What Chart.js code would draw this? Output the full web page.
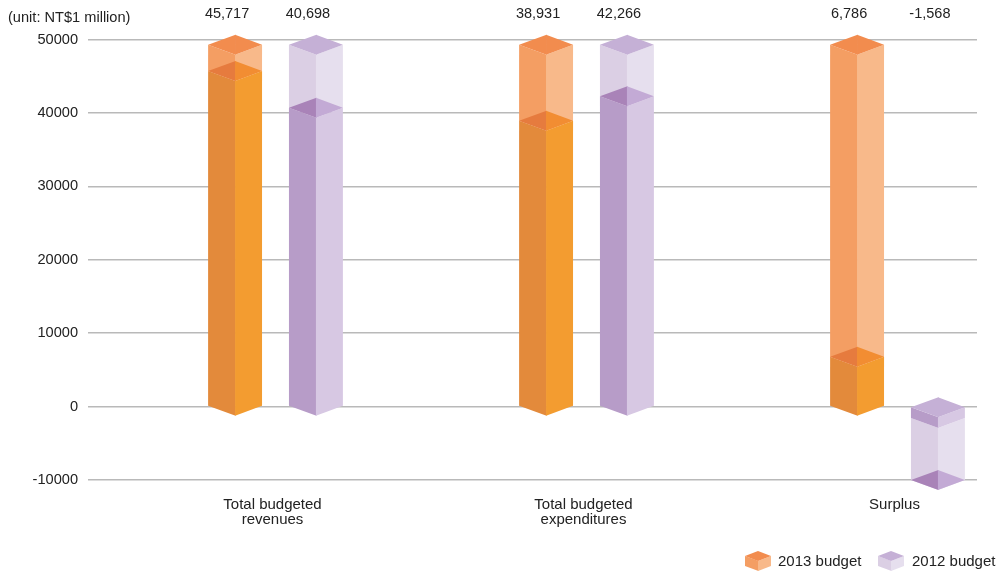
<!DOCTYPE html>
<html>
<head>
<meta charset="utf-8">
<title>Budget</title>
<script src="https://cdn.jsdelivr.net/npm/chart.js@4"></script>
<style>
  html, body { margin: 0; padding: 0; background: #fff; overflow: hidden; }
  #wrap { position: relative; width: 997px; height: 571px; font-family: "Liberation Sans", Arial, sans-serif; color: #222; }
  /* plot runs past the right end of the gridlines, the frame cuts it at 977 */
  #frame { position: absolute; left: 0; top: 0; width: 977px; height: 571px; overflow: hidden; }
  .key { position: absolute; top: 551px; height: 20px; }
  .keyText { position: absolute; top: 553px; font-size: 15px; line-height: 16px; white-space: nowrap; }
</style>
</head>
<body>
<div id="wrap">
  <div id="frame"><canvas id="chart" width="1053" height="571"></canvas></div>
  <canvas class="key" id="key2013" width="26" height="20" style="left:745px"></canvas>
  <div class="keyText" style="left:778px">2013 budget</div>
  <canvas class="key" id="key2012" width="26" height="20" style="left:878px"></canvas>
  <div class="keyText" style="left:912px">2012 budget</div>
</div>
<script>
const categories = [['Total budgeted', 'revenues'], ['Total budgeted', 'expenditures'], 'Surplus'];
const budget2013 = [45717, 38931, 6786];
const budget2012 = [40698, 42266, -1568];
const yMin = -10000;
const yMax = 50000;
const yStep = 10000;
const tubeTop = 49300; // the tubes stop just under the top gridline

const orange = {
  left: '#e38a3b', right: '#f39c30', capLeft: '#e67b3e', capRight: '#f28d32',
  paleLeft: '#f49e63', paleRight: '#f8b98a', paleCap: '#f28c4e'
};
const purple = {
  left: '#b79cc8', right: '#d7c8e3', capLeft: '#a983b8', capRight: '#c3aad5',
  paleLeft: '#dbcfe4', paleRight: '#e6dfee', paleCap: '#c5b0d6'
};

const FONT = '"Liberation Sans", Arial, sans-serif';
const DEPTH = 10; // half height of the diamond caps

function poly(ctx, color, pts) {
  ctx.fillStyle = color;
  ctx.beginPath();
  pts.forEach((p, i) => i ? ctx.lineTo(p[0], p[1]) : ctx.moveTo(p[0], p[1]));
  ctx.closePath();
  ctx.fill();
}

// the two visible faces between y1 (upper) and y2 (lower)
function faces(ctx, x, hw, y1, y2, left, right) {
  poly(ctx, left, [[x - hw, y1], [x + 0.5, y1 + DEPTH], [x + 0.5, y2 + DEPTH], [x - hw, y2]]);
  poly(ctx, right, [[x, y1 + DEPTH], [x + hw, y1], [x + hw, y2], [x, y2 + DEPTH]]);
}

function cap(ctx, x, hw, y, left, right) {
  poly(ctx, left, [[x - hw, y], [x + 0.5, y - DEPTH], [x + 0.5, y + DEPTH]]);
  poly(ctx, right, [[x, y - DEPTH], [x + hw, y], [x, y + DEPTH]]);
}

const prisms = {
  id: 'prisms',
  afterDatasetsDraw(chart) {
    const ctx = chart.ctx;
    const y = chart.scales.y;
    ctx.save();
    chart.data.datasets.forEach((ds, di) => {
      const c = ds.palette;
      chart.getDatasetMeta(di).data.forEach((bar, i) => {
        const hw = bar.width / 2;
        const x = bar.x;
        if (ds.data[i] >= 0) {
          const t = y.getPixelForValue(tubeTop);
          faces(ctx, x, hw, t, bar.y, c.paleLeft, c.paleRight);
          faces(ctx, x, hw, bar.y, bar.base, c.left, c.right);
          cap(ctx, x, hw, bar.y, c.capLeft, c.capRight);
          cap(ctx, x, hw, t, c.paleCap, c.paleCap);
        } else {
          const b = y.getPixelForValue(yMin);
          faces(ctx, x, hw, bar.y, b, c.paleLeft, c.paleRight);
          cap(ctx, x, hw, b, c.capLeft, c.capRight);
          faces(ctx, x, hw, bar.base, bar.y, c.left, c.right);
          cap(ctx, x, hw, bar.base, c.paleCap, c.paleCap);
        }
        // printed value above the column
        ctx.fillStyle = '#222';
        ctx.font = '14.5px ' + FONT;
        ctx.textAlign = 'center';
        ctx.textBaseline = 'middle';
        ctx.fillText(ds.data[i].toLocaleString('en-US'), x - 8, 14);
      });
    });
    ctx.fillStyle = '#222';
    ctx.font = '14.6px ' + FONT;
    ctx.textAlign = 'left';
    ctx.textBaseline = 'middle';
    ctx.fillText('(unit: NT$1 million)', 8, 18);
    ctx.restore();
  }
};

new Chart(document.getElementById('chart'), {
  type: 'bar',
  data: {
    labels: categories,
    datasets: [
      { label: '2013 budget', data: budget2013, palette: orange, backgroundColor: 'transparent' },
      { label: '2012 budget', data: budget2012, palette: purple, backgroundColor: 'transparent' }
    ]
  },
  options: {
    responsive: false,
    animation: false,
    categoryPercentage: 0.52,
    barPercentage: 0.667,
    layout: { padding: { top: 39.5, right: 0, left: 0, bottom: 0 } },
    plugins: { legend: { display: false }, tooltip: { enabled: false } },
    scales: {
      x: {
        grid: { display: false },
        border: { display: false },
        ticks: { color: '#222', padding: 10, labelOffset: -3, maxRotation: 0, autoSkip: false, font: { family: FONT, size: 15, lineHeight: 0.95 } },
        afterFit(scale) { scale.height = 91; }
      },
      y: {
        min: yMin,
        max: yMax,
        border: { display: false },
        grid: { color: '#b9b9b9', lineWidth: 1.5, tickLength: 32 },
        ticks: {
          stepSize: yStep,
          color: '#222',
          padding: 10,
          font: { family: FONT, size: 14.6 },
          callback: v => String(v)
        },
        afterFit(scale) { scale.width = 120; }
      }
    }
  },
  plugins: [prisms]
});

// legend swatches are the same little prism
function drawKey(id, c) {
  const ctx = document.getElementById(id).getContext('2d');
  poly(ctx, c.paleLeft, [[0, 5], [13.5, 10], [13.5, 20], [0, 15]]);
  poly(ctx, c.paleRight, [[13, 10], [26, 5], [26, 15], [13, 20]]);
  poly(ctx, c.paleCap, [[0, 5], [13, 0], [26, 5], [13, 10]]);
}
drawKey('key2013', orange);
drawKey('key2012', purple);
</script>
</body>
</html>
